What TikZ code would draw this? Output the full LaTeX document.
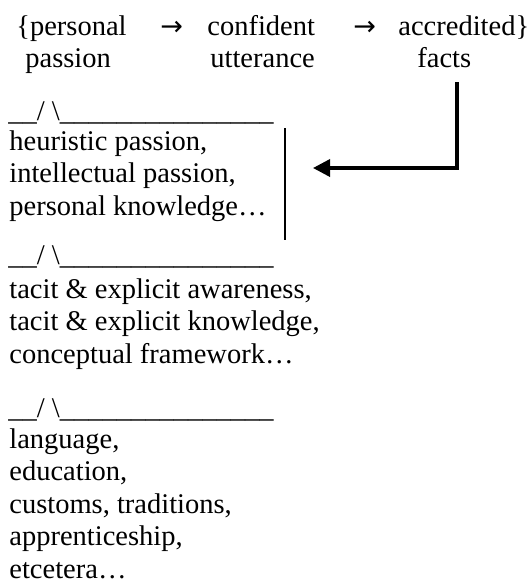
\documentclass[tikz,border=0pt]{standalone}
\usepackage{fontspec}
\setmainfont{Liberation Serif}
\newfontfamily\arrowfont{DejaVu Sans}
\usetikzlibrary{arrows.meta, positioning}
\newcommand{\branchrule}{\_\_/ \textbackslash\_\_\_\_\_\_\_\_\_\_\_\_\_\_\_}

\begin{document}
\begin{tikzpicture}[x=0.5pt, y=-0.5pt,
        word/.style={anchor=base west, inner sep=0pt, font=\fontsize{14.25pt}{16.25pt}\selectfont},
        list/.style={word, align=left},
        arrowsym/.style={anchor=base west, inner sep=0pt, font=\arrowfont\fontsize{13.5pt}{16.25pt}\selectfont},
        flow/.style={-{Triangle[length=8.5pt, width=8.5pt]}, line width=1.75pt},
        bar/.style={line width=0.6pt}
    ]
        \useasboundingbox (0,0) rectangle (531,585);

        % Top sequence
        \node[word] (personal) at (16,35) {\{personal};
        \node[arrowsym] (arrowA) at (160,35) {→};
        \node[word] (confident) at (207,35) {confident};
        \node[arrowsym] (arrowB) at (353,35) {→};
        \node[word] (accredited) at (398,35) {accredited\}};
        \node[word] (passion) at (25,67) {passion};
        \node[word] (utterance) at (210,67) {utterance};
        \node[word] (facts) at (417,67) {facts};

        % Layers (multi-line nodes sit on their last baseline)
        \node[word] (ruleA) at (8,120) {\branchrule};
        \node[list] (heuristic) at (9,215) {heuristic passion,\\intellectual passion,\\personal knowledge…};
        \node[word] (ruleB) at (8,264) {\branchrule};
        \node[list] (tacit) at (9,363) {tacit \& explicit awareness,\\tacit \& explicit knowledge,\\conceptual framework…};
        \node[word] (ruleC) at (8,417) {\branchrule};
        \node[list] (language) at (9,578) {language,\\education,\\customs, traditions,\\apprenticeship,\\etcetera…};

        % Marker bar and feedback arrow
        \coordinate (bartop) at (285,128);
        \coordinate (barbot) at (285,240);
        \draw[bar] (bartop) -- (barbot);
        \coordinate (src) at (457,82);
        \coordinate (tip) at (313,168);
        \draw[flow] (src) |- (tip);
    \end{tikzpicture}
\end{document}
